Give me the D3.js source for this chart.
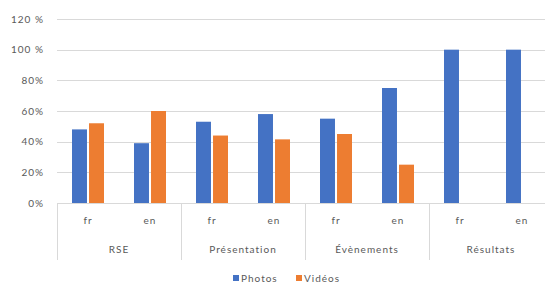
<!DOCTYPE html>
<html>
<head>
<meta charset="utf-8">
<script src="https://cdn.jsdelivr.net/npm/d3@7"></script>
<style>
  body { margin: 0; background: #fff; }
  text { font-family: Lato, "Open Sans", sans-serif; fill: #595959; font-size: 10px; letter-spacing: 1px; }
</style>
</head>
<body>
<script>
var groups = ["RSE", "Présentation", "Évènements", "Résultats"];
var langs = ["fr", "en"];
var seriesNames = ["Photos", "Vidéos"];
var photos = [48, 39, 53, 58, 55, 75, 100, 100];
var videos = [52, 60, 44, 41.5, 45, 25, 0, 0];
var yTicks = [0, 20, 40, 60, 80, 100, 120];
var tickLabels = ["0%", "20%", "40%", "60%", "80%", "100 %", "120 %"];

var w = 545;
var h = 284;
var padLeft = 57;
var padRight = 553;
var padTop = 19;
var padBottom = 203;
var colors = ["#4472C4", "#ED7D31"];

var svg = d3.select("body")
  .append("svg")
  .attr("width", w)
  .attr("height", h);

var slots = [];
groups.forEach(function(g) {
  langs.forEach(function(l) {
    slots.push(g + "|" + l);
  });
});

var x = d3.scaleBand()
  .domain(slots)
  .range([padLeft, padRight]);

var xGroup = d3.scaleBand()
  .domain(groups)
  .range([padLeft, padRight]);

var xInner = d3.scaleBand()
  .domain(seriesNames)
  .range([x.bandwidth() / 2 - 16, x.bandwidth() / 2 + 16])
  .paddingInner(0.12);

var y = d3.scaleLinear()
  .domain([0, 120])
  .range([padBottom, padTop]);

// gridlines
svg.append("g")
  .selectAll("line")
  .data(yTicks.slice(1))
  .enter()
  .append("line")
  .attr("x1", padLeft)
  .attr("x2", padRight)
  .attr("y1", function(d) { return Math.round(y(d)) + 0.5; })
  .attr("y2", function(d) { return Math.round(y(d)) + 0.5; })
  .attr("stroke", "#d9d9d9")
  .attr("stroke-width", 1);

// y tick labels
svg.append("g")
  .selectAll("text")
  .data(yTicks)
  .enter()
  .append("text")
  .attr("x", 44)
  .attr("y", function(d) { return y(d) + 3.5; })
  .attr("text-anchor", "end")
  .text(function(d, i) { return tickLabels[i]; });

// bars
var rows = slots.map(function(s, i) {
  return { slot: s, values: [photos[i], videos[i]] };
});

var slotG = svg.append("g")
  .selectAll("g")
  .data(rows)
  .enter()
  .append("g")
  .attr("transform", function(d) { return "translate(" + x(d.slot) + ",0)"; });

slotG.selectAll("rect")
  .data(function(d) {
    return d.values.map(function(v, k) { return { name: seriesNames[k], value: v, k: k }; })
      .filter(function(e) { return e.value > 0; });
  })
  .enter()
  .append("rect")
  .attr("x", function(d) { return xInner(d.name); })
  .attr("width", xInner.bandwidth())
  .attr("y", function(d) { return y(d.value); })
  .attr("height", function(d) { return y(0) - y(d.value); })
  .attr("fill", function(d) { return colors[d.k]; });

// x axis baseline
svg.append("line")
  .attr("x1", padLeft)
  .attr("x2", padRight)
  .attr("y1", padBottom + 0.5)
  .attr("y2", padBottom + 0.5)
  .attr("stroke", "#d9d9d9");

// group separators
var seps = groups.map(function(g) { return xGroup(g); });
svg.append("g")
  .selectAll("line")
  .data(seps)
  .enter()
  .append("line")
  .attr("x1", function(d) { return Math.round(d) + 0.5; })
  .attr("x2", function(d) { return Math.round(d) + 0.5; })
  .attr("y1", padBottom)
  .attr("y2", 260)
  .attr("stroke", "#d9d9d9");

// language labels
svg.append("g")
  .selectAll("text")
  .data(slots)
  .enter()
  .append("text")
  .attr("x", function(d) { return x(d) + x.bandwidth() / 2; })
  .attr("y", 224)
  .attr("text-anchor", "middle")
  .text(function(d) { return d.split("|")[1]; });

// group labels
svg.append("g")
  .selectAll("text")
  .data(groups)
  .enter()
  .append("text")
  .attr("x", function(d) { return xGroup(d) + xGroup.bandwidth() / 2; })
  .attr("y", 253)
  .attr("text-anchor", "middle")
  .text(function(d) { return d; });

// legend
var legend = svg.append("g")
  .selectAll("g")
  .data(seriesNames)
  .enter()
  .append("g")
  .attr("transform", function(d, i) { return "translate(" + (233 + i * 63) + ",275)"; });

legend.append("rect")
  .attr("width", 6)
  .attr("height", 6)
  .attr("fill", function(d, i) { return colors[i]; });

legend.append("text")
  .attr("x", 8)
  .attr("y", 7)
  .text(function(d) { return d; });
</script>
</body>
</html>
